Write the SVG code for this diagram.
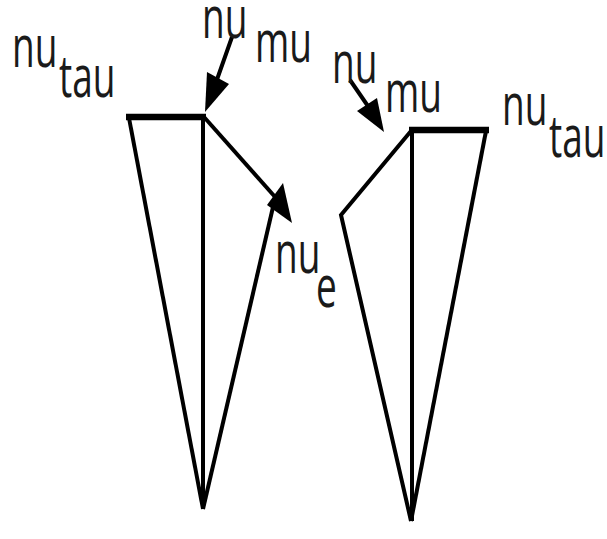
<svg xmlns="http://www.w3.org/2000/svg" width="607" height="539" viewBox="0 0 607 539">
  <style>
    .ln { fill: none; stroke: #000; stroke-width: 4; stroke-linejoin: miter; stroke-linecap: butt; }
    .bar { fill: none; stroke: #000; stroke-width: 6.5; }
    .head { fill: #000; stroke: none; }
    text { font-family: "Open Sans", "DejaVu Sans", sans-serif; font-size: 37px; fill: #1a1a1a; }
  </style>
  <rect width="607" height="539" fill="#fff"/>

  <g id="diagram-left">
    <line class="bar" x1="126" y1="117" x2="206" y2="117"/>
    <line class="ln" x1="129" y1="118" x2="203" y2="509"/>
    <line class="ln" x1="203" y1="115" x2="203" y2="509"/>
    <line class="ln" x1="273" y1="207" x2="203" y2="509"/>
  </g>

  <g id="diagram-right">
    <line class="bar" x1="409" y1="130" x2="489" y2="130"/>
    <line class="ln" x1="486" y1="131" x2="411" y2="521"/>
    <line class="ln" x1="412" y1="128" x2="412" y2="521"/>
    <polyline class="ln" points="411,131 341,215 411,521"/>
  </g>

  <g id="connectors">
    <line class="ln" x1="232" y1="37" x2="214" y2="88"/>
    <polygon class="head" points="205,112 207,72 229,84"/>
    <line class="ln" x1="204" y1="117" x2="276" y2="198"/>
    <polygon class="head" points="292,223 283,183 267,205"/>
    <line class="ln" x1="350" y1="80" x2="372" y2="112"/>
    <polygon class="head" points="384,132 357,111 377,98"/>
  </g>

  <g id="label-nutau-left">
    <text transform="translate(12,67) scale(1,1.6)">nu</text>
    <text transform="translate(59,97) scale(1,1.6)">tau</text>
  </g>
  <g id="label-numu-left">
    <text transform="translate(202,38) scale(1,1.6)">nu</text>
    <text transform="translate(255,62) scale(1,1.6)">mu</text>
  </g>
  <g id="label-nue">
    <text transform="translate(275,273) scale(1,1.6)">nu</text>
    <text transform="translate(316,307) scale(1,1.6)">e</text>
  </g>
  <g id="label-numu-right">
    <text transform="translate(332,83) scale(1,1.6)">nu</text>
    <text transform="translate(385,112) scale(1,1.6)">mu</text>
  </g>
  <g id="label-nutau-right">
    <text transform="translate(502,125) scale(1,1.6)">nu</text>
    <text transform="translate(549,157) scale(1,1.6)">tau</text>
  </g>
</svg>
